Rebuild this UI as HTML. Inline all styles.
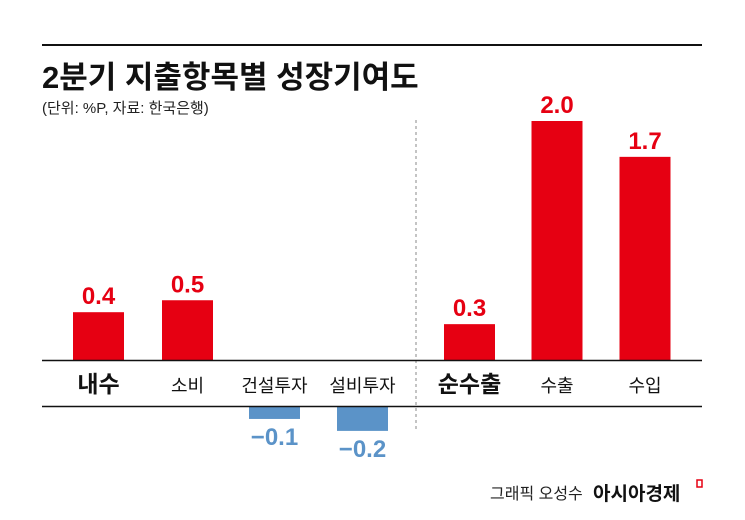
<!DOCTYPE html>
<html><head><meta charset="utf-8"><style>
body{margin:0;background:#fff;}
svg{display:block;font-family:"Liberation Sans","Noto Sans CJK KR",sans-serif;}
</style></head><body>
<svg id="chart" width="745" height="520" viewBox="0 0 745 520">
<line x1="42" y1="45" x2="702" y2="45" stroke="#111" stroke-width="2"/>
<text x="42" y="88" font-size="31" font-weight="bold" fill="#111">2분기 지출항목별 성장기여도</text>
<text x="42" y="113" font-size="15" fill="#222">(단위: %P, 자료: 한국은행)</text>
<line x1="416" y1="120" x2="416" y2="432" stroke="#888" stroke-width="1" stroke-dasharray="3,3"/>
<g id="bars"></g>
<line x1="42" y1="360.5" x2="702" y2="360.5" stroke="#111" stroke-width="1.5"/>
<line x1="42" y1="406.5" x2="702" y2="406.5" stroke="#111" stroke-width="1.5"/>
<text x="490" y="499" font-size="16" fill="#222">그래픽 오성수</text>
<text x="593" y="500" font-size="19" font-weight="bold" fill="#111">아시아경제</text>
<rect x="697" y="480" width="5" height="7" fill="none" stroke="#e60012" stroke-width="1.5"/>
</svg>
<script>
const categories=["내수","소비","건설투자","설비투자","순수출","수출","수입"];
const values=[0.4,0.5,-0.1,-0.2,0.3,2.0,1.7];
const valueLabels=["0.4","0.5","−0.1","−0.2","0.3","2.0","1.7"];
const boldCats=[true,false,false,false,true,false,false];
const ns="http://www.w3.org/2000/svg";
const g=document.getElementById("bars");
const base=360, negBase=407, unit=119.5;
const centers=[98.5,187.5,274.5,362.5,469.5,557,645];
const bw=51;
function yScale(v){return v*unit;}
categories.forEach((c,i)=>{
  const v=values[i];
  const r=document.createElementNS(ns,"rect");
  const h=Math.abs(yScale(v));
  r.setAttribute("x",centers[i]-bw/2);
  r.setAttribute("width",bw);
  if(v>=0){r.setAttribute("y",base-h);}else{r.setAttribute("y",negBase);}
  r.setAttribute("height",h);
  r.setAttribute("fill",v>=0?"#e60012":"#5b93c8");
  
  
  g.appendChild(r);
  const t=document.createElementNS(ns,"text");
  t.setAttribute("x",centers[i]);
  t.setAttribute("text-anchor","middle");
  t.setAttribute("font-size","24");
  t.setAttribute("font-weight","bold");
  t.setAttribute("fill",v>=0?"#e60012":"#5b93c8");
  t.setAttribute("y",v>=0?base-h-8:negBase+h+26);
  t.textContent=valueLabels[i];
  
  
  g.appendChild(t);
  const l=document.createElementNS(ns,"text");
  l.setAttribute("x",centers[i]);
  l.setAttribute("y",392);
  l.setAttribute("text-anchor","middle");
  l.setAttribute("font-size",boldCats[i]?"23":"18");
  if(boldCats[i])l.setAttribute("font-weight","bold");
  l.setAttribute("fill","#111");
  l.textContent=c;
  
  
  g.appendChild(l);
});
</script>
</body></html>
